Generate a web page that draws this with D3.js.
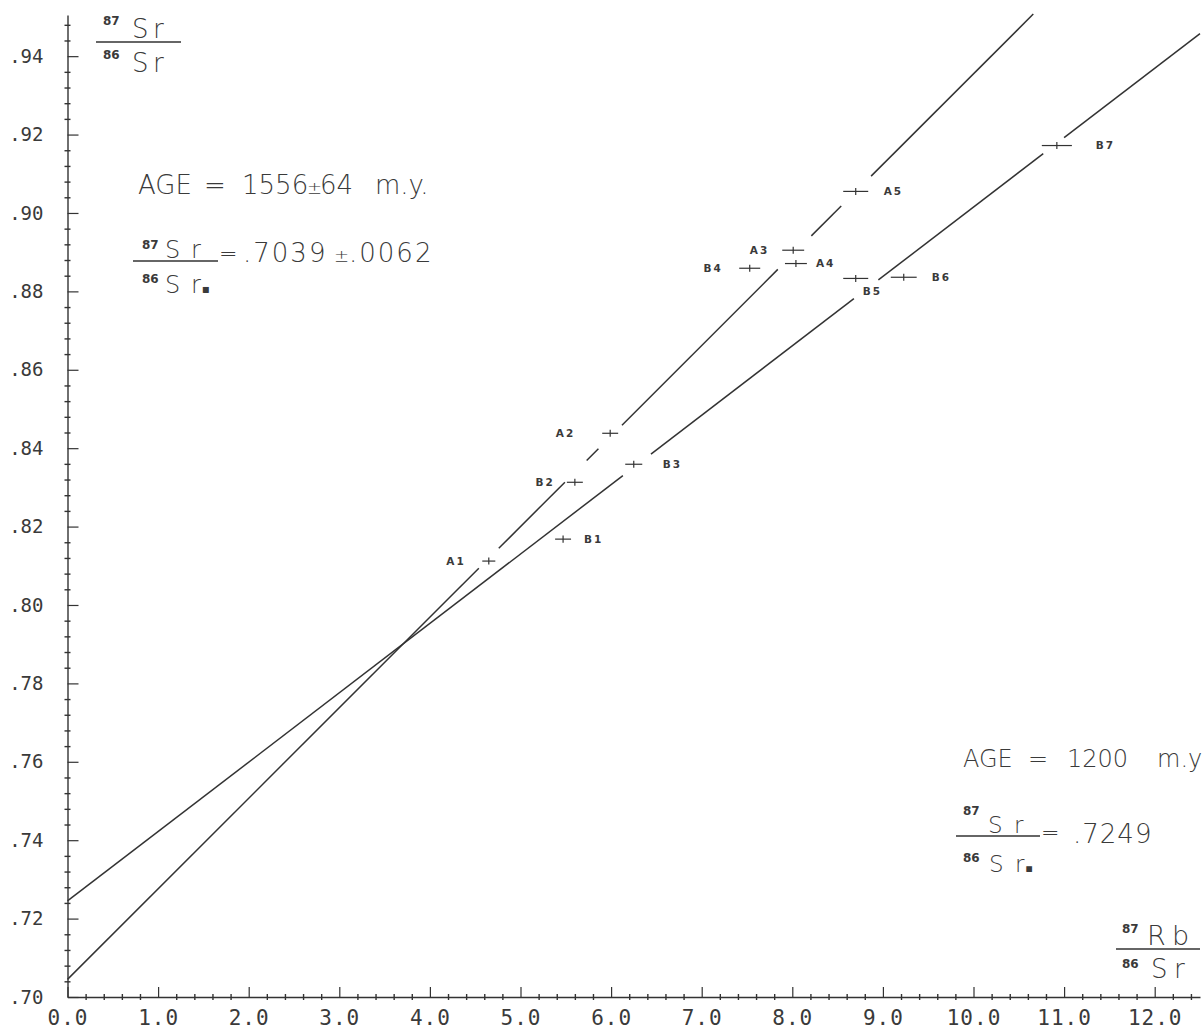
<!DOCTYPE html>
<html><head><meta charset="utf-8">
<script src="https://cdn.jsdelivr.net/npm/d3@7"></script>
<style>body{margin:0;background:#fff}svg{display:block}</style>
</head><body>
<svg id="c" width="1202" height="1032"></svg>
<script>
// ---------- data ----------
const xMajorTicks = [0,1,2,3,4,5,6,7,8,9,10,11,12];
const xTickLabels = ["0.0","1.0","2.0","3.0","4.0","5.0","6.0","7.0","8.0","9.0","10.0","11.0","12.0"];
const yMajorTicks = [0.70,0.72,0.74,0.76,0.78,0.80,0.82,0.84,0.86,0.88,0.90,0.92,0.94];
const yTickLabels = [".70",".72",".74",".76",".78",".80",".82",".84",".86",".88",".90",".92",".94"];

const sampleNames = ["A1","B1","B2","A2","B3","B4","A3","A4","B5","A5","B6","B7"];
const rbSr   = [4.65,5.47,5.60,5.99,6.25,7.53,8.01,8.04,8.70,8.70,9.23,10.92];
const srSr   = [0.8112,0.8168,0.8313,0.8438,0.8359,0.8859,0.8905,0.8871,0.8833,0.9055,0.8836,0.9172];
const rbErr  = [0.072,0.088,0.088,0.088,0.094,0.116,0.121,0.121,0.138,0.138,0.143,0.166];
const srErr  = [0.0009,0.0009,0.0009,0.0009,0.0009,0.0009,0.0009,0.0009,0.0009,0.0009,0.0009,0.0009];

// isochrons as drawn: A (1556 m.y.) and B (1200 m.y.)
const isoIntercepts = [0.7045, 0.7245];
const isoSlopes     = [0.0231, 0.0177];
const segmentsA = [[0,4.54],[4.76,5.49],[5.73,5.86],[6.12,7.84],[8.21,8.54],[8.87,10.66]];
const segmentsB = [[0,6.13],[6.44,8.68],[8.95,10.77],[11.0,12.5]];

// ---------- layout (pixels, not data) ----------
const labelLayout = {
  A1:{dx:-23,dy:0,a:"end"}, B1:{dx:21,dy:0,a:"start"}, B2:{dx:-20,dy:0,a:"end"},
  A2:{dx:-35,dy:0,a:"end"}, B3:{dx:29,dy:0,a:"start"}, B4:{dx:-27,dy:0,a:"end"},
  A3:{dx:-24,dy:0,a:"end"}, A4:{dx:20,dy:0,a:"start"}, B5:{dx:7,dy:13,a:"start"},
  A5:{dx:28,dy:0,a:"start"}, B6:{dx:28,dy:0,a:"start"}, B7:{dx:39,dy:0,a:"start"}
};

const ink = "#333";
const txtInk = "#3a3a3a";
const svg = d3.select("#c");
const x = d3.scaleLinear().domain([0,12.5]).range([67.5,1200]);
const y = d3.scaleLinear().domain([0.70,0.9505]).range([997,15]);

// ---------- axes ----------
const xMinor = d3.range(0,63).map(k=>k*0.2).filter((v,k)=>k%5!==0 && v<12.5);
const yMinor = d3.range(0,63).map(k=>0.70+k*0.004).filter((v,k)=>k%5!==0 && v<0.9505);

const gxm = svg.append("g").attr("transform",`translate(0,${y(0.70)})`)
  .call(d3.axisBottom(x).tickValues(xMinor).tickSize(3).tickFormat(""));
gxm.select(".domain").remove();
gxm.selectAll(".tick line").attr("y1",-3).attr("stroke",ink).attr("stroke-width",1.4);

const gx = svg.append("g").attr("transform",`translate(0,${y(0.70)})`)
  .call(d3.axisBottom(x).tickValues(xMajorTicks).tickSize(-10).tickSizeOuter(0)
        .tickPadding(13).tickFormat((d,i)=>xTickLabels[i]));
gx.select(".domain").attr("stroke",ink).attr("stroke-width",1.4);
gx.selectAll(".tick line").attr("stroke",ink).attr("stroke-width",1.2);
gx.selectAll(".tick text").attr("fill",txtInk).attr("font-family","DejaVu Sans Mono")
  .attr("font-size",21).attr("font-weight",200).attr("letter-spacing",1);

const gym = svg.append("g").attr("transform",`translate(${x(0)},0)`)
  .call(d3.axisLeft(y).tickValues(yMinor).tickSize(3).tickFormat(""));
gym.select(".domain").remove();
gym.selectAll(".tick line").attr("x2",3).attr("x1",-3).attr("stroke",ink).attr("stroke-width",1.4);

const gy = svg.append("g").attr("transform",`translate(${x(0)},0)`)
  .call(d3.axisLeft(y).tickValues(yMajorTicks).tickSize(-11).tickSizeOuter(0)
        .tickPadding(24).tickFormat((d,i)=>yTickLabels[i]));
gy.select(".domain").attr("stroke",ink).attr("stroke-width",1.4);
gy.selectAll(".tick line").attr("stroke",ink).attr("stroke-width",1.2);
gy.selectAll(".tick text").attr("fill",txtInk).attr("font-family","DejaVu Sans Mono")
  .attr("font-size",19).attr("font-weight",200);

// ---------- isochron lines ----------
const line = d3.line().x(d=>x(d[0])).y(d=>y(d[1]));
[segmentsA, segmentsB].forEach((segs,li)=>{
  segs.forEach(s=>{
    const pts = s.map(v=>[v, isoIntercepts[li] + isoSlopes[li]*v]);
    svg.append("path").attr("d",line(pts)).attr("fill","none")
      .attr("stroke",ink).attr("stroke-width",1.5);
  });
});

// ---------- samples ----------
const samples = sampleNames.map((n,i)=>({n, x:rbSr[i], y:srSr[i], ex:rbErr[i], ey:srErr[i]}));
const gp = svg.append("g").attr("stroke",ink).attr("stroke-width",1.2);
gp.selectAll("line.h").data(samples).join("line").attr("class","h")
  .attr("x1",d=>x(d.x-d.ex)).attr("x2",d=>x(d.x+d.ex))
  .attr("y1",d=>y(d.y)).attr("y2",d=>y(d.y));
gp.selectAll("line.v").data(samples).join("line").attr("class","v")
  .attr("x1",d=>x(d.x)).attr("x2",d=>x(d.x))
  .attr("y1",d=>y(d.y-d.ey)).attr("y2",d=>y(d.y+d.ey));
svg.append("g").selectAll("text").data(samples).join("text")
  .attr("x",d=>x(d.x)+labelLayout[d.n].dx)
  .attr("y",d=>y(d.y)+labelLayout[d.n].dy)
  .attr("dy","0.36em")
  .attr("text-anchor",d=>labelLayout[d.n].a)
  .attr("font-family","DejaVu Sans").attr("font-weight","bold").attr("font-size",10.5)
  .attr("letter-spacing",2).attr("fill",txtInk)
  .text(d=>d.n);

// ---------- text annotations ----------
function t(px,py,str,size,opt={}){
  return svg.append("text").attr("x",px).attr("y",py).attr("fill",txtInk)
    .attr("font-family",opt.f||"DejaVu Sans").attr("font-weight",opt.w||200)
    .attr("font-size",size).attr("text-anchor",opt.a||"start")
    .attr("letter-spacing",opt.ls||0).text(str);
}
function bar(x1,x2,py){
  svg.append("line").attr("x1",x1).attr("x2",x2).attr("y1",py).attr("y2",py)
    .attr("stroke",ink).attr("stroke-width",1.4);
}
function sr(px,py,size,rOff,sub){ // "S r" pair
  t(px,py,"S",size); t(px+rOff,py,"r",size);
  if(sub) t(px+rOff+size*0.45,py,"▪",size*0.5,{w:"bold"});
}

// y axis title
t(103,25,"87",12,{w:"bold"}); sr(132,38,26,21);
bar(96,181,42);
t(103,59,"86",12,{w:"bold"}); sr(132,72,26,21);

// x axis title
t(1122,933,"87",12,{w:"bold"}); t(1147,945,"R",27); t(1172,945,"b",27);
bar(1116,1200,949);
t(1122,968,"86",12,{w:"bold"}); sr(1151,978,26,23);

// left annotation
t(138,194,"AGE",26); t(204,194,"=",26); t(242,194,"1556",26);
t(307,194,"±",18); t(320,194,"64",26); t(375,194,"m.y.",26);
t(142,249,"87",12,{w:"bold"}); sr(165,258,24,26);
bar(133,218,261);
t(142,283,"86",12,{w:"bold"}); sr(165,293,24,26,true);
t(219,261,"=",22); t(243,262,".7039",26,{ls:2}); t(334,262,"±",18); t(349,262,".0062",26,{ls:2});

// right annotation
t(963,767,"AGE",24); t(1028,767,"=",24); t(1067,767,"1200",24); t(1157,767,"m.y",24);
t(963,815,"87",12,{w:"bold"}); sr(988,833,23,26);
bar(956,1040,836);
t(963,862,"86",12,{w:"bold"}); sr(989,872,23,26,true);
t(1041,840,"=",22); t(1073,843,".7249",26,{ls:1});
</script>
</body></html>
